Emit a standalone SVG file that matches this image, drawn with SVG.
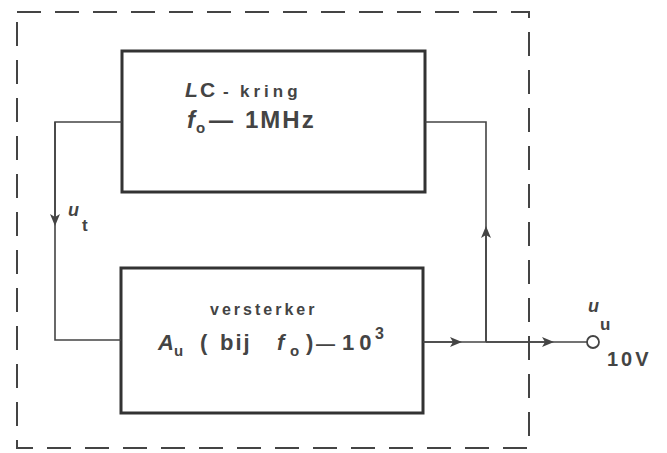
<svg xmlns="http://www.w3.org/2000/svg" width="667" height="453" viewBox="0 0 667 453">
<style>
.box{fill:none;stroke:#333;stroke-width:3}
.ln{fill:none;stroke:#444;stroke-width:1.6}
.dash{fill:none;stroke:#444;stroke-width:2;stroke-dasharray:24 14}
text{font-family:"Liberation Sans",Arial,sans-serif;font-weight:bold;fill:#444}
.it{font-style:italic}
</style>
<defs>
<marker id="ar" viewBox="0 0 12 10" refX="6" refY="5" markerWidth="12" markerHeight="10" markerUnits="userSpaceOnUse" orient="auto">
<path d="M0,0 L12,5 L0,10 L3,5 Z" fill="#444"/>
</marker>
</defs>
<rect width="667" height="453" fill="#fff"/>
<g id="boundary"><rect class="dash" x="17" y="12" width="512" height="436"/></g>
<g id="lc">
<rect class="box" x="122" y="51" width="303" height="141"/>
<text y="97" font-size="21"><tspan class="it" x="185">L</tspan><tspan x="200">C</tspan><tspan x="223" font-size="17">-</tspan><tspan x="240" font-size="17" letter-spacing="4">kring</tspan></text>
<text y="128" font-size="24"><tspan class="it" x="187">f</tspan><tspan x="196" font-size="15" dy="5">o</tspan><tspan x="209" dy="-5">—</tspan><tspan x="245" letter-spacing="2">1MHz</tspan></text>
</g>
<g id="amp">
<rect class="box" x="121" y="268" width="302" height="145"/>
<text x="210" y="315" font-size="16" letter-spacing="3">versterker</text>
<text y="350" font-size="22"><tspan class="it" x="158">A</tspan><tspan x="174" font-size="15" dy="6">u</tspan><tspan x="200" dy="-6">(</tspan><tspan x="220" letter-spacing="2">bij</tspan><tspan class="it" x="277">f</tspan><tspan x="290" font-size="15" dy="6">o</tspan><tspan x="306" dy="-6">)</tspan><tspan x="316" font-size="19">—</tspan><tspan x="342" letter-spacing="5">10</tspan><tspan x="375" font-size="16" dy="-11">3</tspan></text>
</g>
<g id="output">
<circle cx="593" cy="342" r="6" fill="#fff" stroke="#444" stroke-width="1.8"/>
<text x="588" y="312" font-size="18" class="it" font-weight="normal">u</text>
<text x="600" y="330" font-size="17">u</text>
<text x="607" y="366" font-size="20" letter-spacing="3">10V</text>
</g>
<g id="connectors">
<path class="ln" d="M122,122 H55 V340 H121"/>
<path class="ln" d="M55,122 V220" marker-end="url(#ar)"/>
<path class="ln" d="M423,342 H587"/>
<path class="ln" d="M423,342 H456" marker-end="url(#ar)"/>
<path class="ln" d="M486,342 H548" marker-end="url(#ar)"/>
<path class="ln" d="M486,342 V122 H425"/>
<path class="ln" d="M486,342 V232" marker-end="url(#ar)"/>
<text x="68" y="216" font-size="18" class="it" font-weight="normal">u</text>
<text x="82" y="231" font-size="17">t</text>
</g>
</svg>
